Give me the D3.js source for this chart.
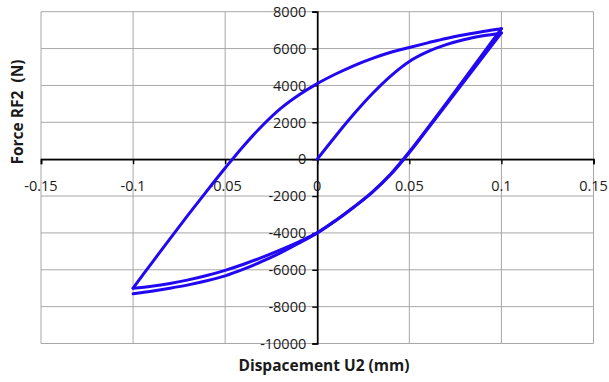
<!DOCTYPE html>
<html>
<head>
<meta charset="utf-8">
<script src="https://cdn.jsdelivr.net/npm/d3@7"></script>
<style>
  html, body { margin: 0; padding: 0; background: #ffffff; }
  svg { display: block; }
  text { font-family: "Open Sans", "Liberation Sans", sans-serif; fill: #1a1a1a; }
</style>
</head>
<body>
<svg id="chart" width="609" height="382"></svg>
<script>
// ---- Data ----
const xTicks = [-0.15, -0.1, -0.05, 0, 0.05, 0.1, 0.15];
const xTickLabels = ["-0.15", "-0.1", "-0.05", "0", "0.05", "0.1", "0.15"];
const yTicks = [-10000, -8000, -6000, -4000, -2000, 0, 2000, 4000, 6000, 8000];
const yTickLabels = ["-10000", "-8000", "-6000", "-4000", "-2000", "0", "2000", "4000", "6000", "8000"];

// Initial loading branch
const loadDisp  = [0, 0.01, 0.02, 0.03, 0.04, 0.05, 0.06, 0.07, 0.08, 0.09, 0.1];
const loadForce = [0, 1260, 2460, 3560, 4520, 5300, 5830, 6210, 6490, 6690, 6850];

// First unloading branch
const unload1Disp  = [0.1, 0.09, 0.08, 0.07, 0.06, 0.05, 0.04, 0.03, 0.02, 0.01, 0, -0.01, -0.02, -0.03, -0.04, -0.05, -0.06, -0.07, -0.08, -0.09, -0.1];
const unload1Force = [6850, 5550, 4250, 2950, 1650, 360, -820, -1790, -2600, -3340, -4000, -4480, -4920, -5330, -5700, -6030, -6310, -6550, -6740, -6890, -7000];

// Reloading branch
const reloadDisp  = [-0.1, -0.09, -0.08, -0.07, -0.06, -0.05, -0.04, -0.03, -0.02, -0.01, 0, 0.01, 0.02, 0.03, 0.04, 0.05, 0.06, 0.07, 0.08, 0.09, 0.1];
const reloadForce = [-7000, -5650, -4320, -3010, -1730, -480, 720, 1800, 2740, 3480, 4100, 4620, 5080, 5470, 5800, 6060, 6310, 6550, 6750, 6930, 7080];

// Second unloading branch
const unload2Disp  = [0.1, 0.09, 0.08, 0.07, 0.06, 0.05, 0.04, 0.03, 0.02, 0.01, 0, -0.01, -0.02, -0.03, -0.04, -0.05, -0.06, -0.07, -0.08, -0.09, -0.1];
const unload2Force = [7080, 5720, 4370, 3030, 1700, 400, -790, -1770, -2580, -3320, -4000, -4560, -5080, -5550, -5970, -6330, -6600, -6820, -7000, -7160, -7300];

const branches = [
  [loadDisp, loadForce],
  [unload1Disp, unload1Force],
  [reloadDisp, reloadForce],
  [unload2Disp, unload2Force]
];

// ---- Layout ----
const svg = d3.select("#chart");
const plotLeft = 41, plotRight = 593.5, plotTop = 11.7, plotBottom = 343.5;

const x = d3.scaleLinear().domain([-0.15, 0.15]).range([plotLeft, plotRight]);
const y = d3.scaleLinear().domain([-10000, 8000]).range([plotBottom, plotTop]);

const gridColor = "#a8a8a8";

// Gridlines
svg.append("g").selectAll("line").data(xTicks).join("line")
  .attr("x1", d => x(d)).attr("x2", d => x(d))
  .attr("y1", plotTop).attr("y2", plotBottom)
  .attr("stroke", gridColor).attr("stroke-width", 1);
svg.append("g").selectAll("line").data(yTicks).join("line")
  .attr("x1", plotLeft).attr("x2", plotRight)
  .attr("y1", d => y(d)).attr("y2", d => y(d))
  .attr("stroke", gridColor).attr("stroke-width", 1);

// X axis through y=0
const xAxis = d3.axisBottom(x).tickValues(xTicks).tickSize(5).tickFormat("");
const gx = svg.append("g").attr("transform", `translate(0,${y(0)})`).call(xAxis);
gx.select(".domain").attr("stroke", "#000").attr("stroke-width", 1.7);
gx.selectAll(".tick line").attr("stroke", "#000").attr("stroke-width", 1.4);

// Y axis through x=0
const yAxis = d3.axisLeft(y).tickValues(yTicks).tickSize(5).tickFormat("");
const gy = svg.append("g").attr("transform", `translate(${x(0)},0)`).call(yAxis);
gy.select(".domain").attr("stroke", "#000").attr("stroke-width", 1.7);
gy.selectAll(".tick line").attr("stroke", "#000").attr("stroke-width", 1.4);

// Tick labels
svg.append("g").selectAll("text").data(xTicks).join("text")
  .attr("x", d => x(d)).attr("y", y(0) + 31.5)
  .attr("text-anchor", "middle")
  .style("font-size", "14.5px")
  .text((d, i) => xTickLabels[i]);

svg.append("g").selectAll("text").data(yTicks).join("text")
  .attr("x", x(0) - 11).attr("y", d => y(d))
  .attr("dy", "0.36em")
  .attr("text-anchor", "end")
  .style("font-size", "14.5px")
  .text((d, i) => yTickLabels[i]);

// Curves
const line = d3.line()
  .x(d => x(d[0])).y(d => y(d[1]))
  .curve(d3.curveCatmullRom.alpha(0.5));

branches.forEach(([xs, ys]) => {
  const pts = xs.map((v, i) => [v, ys[i]]);
  svg.append("path").datum(pts)
    .attr("d", line)
    .attr("fill", "none")
    .attr("stroke", "#2208f2")
    .attr("stroke-width", 3)
    .attr("stroke-linejoin", "round")
    .attr("stroke-linecap", "round");
});

// Axis titles
svg.append("text")
  .attr("x", 324).attr("y", 371)
  .attr("text-anchor", "middle")
  .style("font-size", "15.5px").style("font-weight", "bold")
  .text("Dispacement U2 (mm)");

svg.append("text")
  .attr("transform", `translate(23,112) rotate(-90)`)
  .attr("text-anchor", "middle")
  .style("font-size", "15.5px").style("font-weight", "bold")
  .style("white-space", "pre")
  .text("Force RF2  (N)");
</script>
</body>
</html>
